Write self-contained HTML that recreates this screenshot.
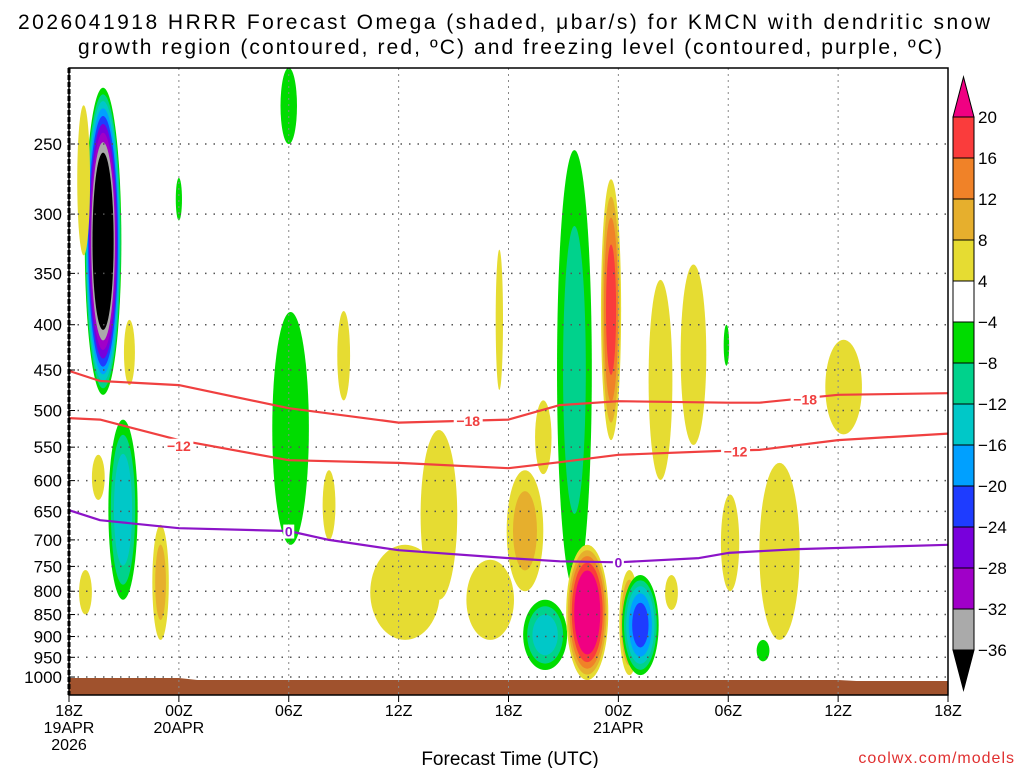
<!DOCTYPE html>
<html><head><meta charset="utf-8"><style>
html,body{margin:0;padding:0;background:#fff;}
svg{display:block;font-family:"Liberation Sans",sans-serif;}
</style></head><body>
<svg id="chart" width="1024" height="768" viewBox="0 0 1024 768" xmlns="http://www.w3.org/2000/svg">
<text x="18" y="29" font-size="21" textLength="972" lengthAdjust="spacing">2026041918 HRRR Forecast Omega (shaded, μbar/s) for KMCN with dendritic snow</text>
<text x="78" y="54" font-size="21" textLength="864" lengthAdjust="spacing">growth region (contoured, red, ºC) and freezing level (contoured, purple, ºC)</text>
<g id="plot"></g>
<g id="cbar"></g>
<text x="510" y="765" font-size="19" text-anchor="middle">Forecast Time (UTC)</text>
<text x="1015" y="763" font-size="16" fill="#e03030" text-anchor="end" letter-spacing="1">coolwx.com/models</text>
</svg>
<script>
const pLevels=[250,300,350,400,450,500,550,600,650,700,750,800,850,900,950,1000];
const xTickHours=[0,6,12,18,24,30,36,42,48];
const xTickLabels=[["18Z","19APR","2026"],["00Z","20APR"],["06Z"],["12Z"],["18Z"],["00Z","21APR"],["06Z"],["12Z"],["18Z"]];
// blobs: time(h), top p, bottom p, half-width(h), peak omega
const blobT=[1.86,0.8,3.3,2.95,1.6,0.9,5.0,6.0,12.0,12.1,15.0,14.2,18.35,20.2,23.0,24.9,23.5,25.9,27.6,26.0,28.3,29.6,30.6,31.2,32.3,34.1,32.9,35.9,36.1,38.8,37.9,42.3];
const blobPTop=[216,226,395,512,561,757,673,273,205,387,386,584,709,526,737,584,329,487,254,818,709,274,757,767,356,342,767,400,622,573,908,416];
const blobPBot=[480,334,468,818,631,850,908,305,250,709,487,700,908,818,908,800,474,590,797,982,1008,540,995,995,599,547,840,445,800,908,960,532];
const blobHW=[1.0,0.35,0.3,0.8,0.35,0.35,0.45,0.17,0.45,1.0,0.35,0.35,1.9,1.0,1.3,1.0,0.2,0.45,0.95,1.2,1.15,0.55,0.55,1.0,0.65,0.7,0.35,0.15,0.5,1.1,0.35,1.0];
const blobPeak=[-50,6,5,-15,5,6,9,-6,-6,-7,5,5,6,7,6,9,5,5,-9,-14,28,18,14,-22,5,7,5,-6,5,6,-6,5];
// contour lines
const lineT=[0,1.7,6,12,18,24,26.8,30,36,37.7,42,48];
const m18P=[451,463,468,497,516,512,493,488,490,490,480,478];
const m12P=[510,512,540,569,573,581,572,561,555,554,540,531];
const fzT=[0,1.7,6,12,14.2,18,24,26.8,30,34.4,36,39.8,48];
const fzP=[648,665,679,684,700,719,734,740,742,734,724,717,709];
const posLv=[4,8,12,16,20], posCol=["#e6dc32","#e6af2d","#f08228","#fa3c3c","#f00082"];
const negLv=[-4,-8,-12,-16,-20,-24,-28,-32,-36];
const negCol=["#00dc00","#00d28c","#00c8c8","#00a0ff","#1e3cff","#7800dc","#a000c8","#aaaaaa","#000000"];
const NS="http://www.w3.org/2000/svg";
const X0=69,X1=948,Y0=68,Y1=695;
const xs=t=>X0+t*(X1-X0)/48;
const ys=p=>144+384.5*Math.log(p/250);
const plot=document.getElementById('plot'), cbar=document.getElementById('cbar');
function mk(tag,at,par){const e=document.createElementNS(NS,tag);for(const k in at)e.setAttribute(k,at[k]);(par||plot).appendChild(e);return e;}
const defs=mk('defs',{});const cp=mk('clipPath',{id:'pc'},defs);mk('rect',{x:X0,y:Y0,width:X1-X0,height:Y1-Y0},cp);
const gB=mk('g',{'clip-path':'url(#pc)'});


blobT.forEach((t,i)=>{
  const pk=blobPeak[i],lv=pk>0?posLv:negLv,col=pk>0?posCol:negCol;
  const cx=xs(t),y1=ys(blobPTop[i]),y2=ys(blobPBot[i]),cy=(y1+y2)/2,ry=(y2-y1)/2,rx=blobHW[i]*(X1-X0)/48;
  lv.forEach((L,j)=>{
    if(Math.abs(pk)<Math.abs(L))return;
    const s=Math.sqrt(Math.max(0,1-(Math.abs(L)-4)/(Math.abs(pk)-2)));
    const e=mk('ellipse',{cx:cx,cy:cy,rx:rx*s,ry:ry*s,fill:col[j]},gB);
    
    
  });
});
const terr=mk('polygon',{points:`${X0},678 ${xs(6)},678 ${xs(7)},680 ${xs(42)},680 ${xs(43)},681 ${X1},681 ${X1},${Y1} ${X0},${Y1}`,fill:'#a0522d'});


pLevels.forEach(p=>{const y=ys(p);
  const g=mk('line',{x1:X0,x2:X1,y1:y,y2:y,stroke:'#555','stroke-width':1.5,'stroke-dasharray':'1.5 7'});
  
  
  mk('line',{x1:X0,x2:X0+6,y1:y,y2:y,stroke:'#000'});
  const tl=mk('text',{x:62,y:y+6,'font-size':17,'text-anchor':'end'});tl.textContent=p;
  
  
});
xTickHours.forEach((h,i)=>{const x=xs(h);
  if(i>0&&i<8){const g=mk('line',{x1:x,x2:x,y1:Y0,y2:Y1,stroke:'#888','stroke-width':1,'stroke-dasharray':'2 4'});
  
  }
  mk('line',{x1:x,x2:x,y1:Y1,y2:Y1+7,stroke:'#000'});
  xTickLabels[i].forEach((s,k)=>{const t=mk('text',{x:x,y:716+k*17,'font-size':16,'text-anchor':'middle'});t.textContent=s;
    
    });
});
function drawLine(T,P,color,name){
  const d=T.map((t,i)=>(i?'L':'M')+xs(t).toFixed(1)+','+ys(P[i]).toFixed(1)).join(' ');
  const e=mk('path',{d:d,fill:'none',stroke:color,'stroke-width':2.2,'stroke-linejoin':'round','clip-path':'url(#pc)'});
  
  
}
drawLine(lineT,m18P,'#f04040','contour-minus-18');
drawLine(lineT,m12P,'#f04040','contour-minus-12');
drawLine(fzT,fzP,'#8c14c8','freezing-level');
function lab(t,p,txt,color){const x=xs(t),y=ys(p);
  const w=txt.length*9+2;
  mk('rect',{x:x-w/2,y:y-7,width:w,height:14,fill:'#fff'});
  const e=mk('text',{x:x,y:y+5,'font-size':14,'font-weight':'bold',fill:color,'text-anchor':'middle'});e.textContent=txt;
  
  }
lab(21.8,514,'−18','#f04040');lab(40.2,486,'−18','#f04040');
lab(6,548,'−12','#f04040');lab(36.4,556,'−12','#f04040');
lab(12,685,'0','#8c14c8');lab(30,742,'0','#8c14c8');
const fr=mk('rect',{x:X0,y:Y0,width:X1-X0,height:Y1-Y0,fill:'none',stroke:'#000','stroke-width':1.5});


mk('line',{x1:X0,x2:X0,y1:Y0,y2:Y1,stroke:'#000','stroke-width':3,'stroke-dasharray':'5 2'});
// colorbar
const cbTop=117,cbStep=41,cx0=953,cw=21;
const cbColors=["#fa3c3c","#f08228","#e6af2d","#e6dc32","#ffffff","#00dc00","#00d28c","#00c8c8","#00a0ff","#1e3cff","#7800dc","#a000c8","#aaaaaa"];
const cbLabels=["20","16","12","8","4","−4","−8","−12","−16","−20","−24","−28","−32","−36"];
mk('polygon',{points:`${cx0},${cbTop} ${cx0+cw},${cbTop} ${cx0+cw/2},77`,fill:'#f00082',stroke:'#000'},cbar);
cbColors.forEach((c,i)=>{const r=mk('rect',{x:cx0,y:cbTop+i*cbStep,width:cw,height:cbStep,fill:c,stroke:'#000'},cbar);
  
  });
const yb=cbTop+13*cbStep;
mk('polygon',{points:`${cx0},${yb} ${cx0+cw},${yb} ${cx0+cw/2},690`,fill:'#000',stroke:'#000'},cbar);
cbLabels.forEach((s,i)=>{const t=mk('text',{x:978,y:cbTop+i*cbStep+6,'font-size':17},cbar);t.textContent=s;
  
  });
</script>
</body></html>
